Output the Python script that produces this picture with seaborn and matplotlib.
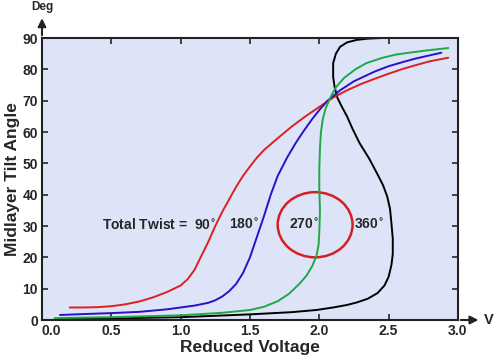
import numpy as np
import pandas as pd
import seaborn as sns
import matplotlib.pyplot as plt
from matplotlib.patches import Ellipse

# curve values (reduced voltage, midlayer tilt in deg)
red_x = [0.2, 0.3, 0.4, 0.5, 0.6, 0.7, 0.8, 0.9, 1.0, 1.05, 1.1, 1.15, 1.2, 1.25, 1.3, 1.35, 1.4, 1.45,
         1.5, 1.55, 1.6, 1.7, 1.8, 1.9, 2.0, 2.1, 2.2, 2.3, 2.4, 2.5, 2.6, 2.7, 2.8, 2.93]
red_y = [4.0, 4.0, 4.1, 4.4, 5.0, 5.9, 7.2, 8.9, 11.0, 13.0, 16.0, 20.5, 25.0, 30.0, 34.5, 38.5, 42.5, 46.0,
         49.0, 51.8, 54.2, 58.0, 61.7, 65.0, 68.0, 71.0, 73.3, 75.3, 77.0, 78.6, 80.1, 81.4, 82.6, 83.7]

blue_x = [0.13, 0.3, 0.5, 0.7, 0.9, 1.0, 1.1, 1.2, 1.25, 1.3, 1.35, 1.4, 1.45, 1.5, 1.55, 1.6, 1.65, 1.7,
          1.77, 1.83, 1.89, 1.95, 2.0, 2.06, 2.15, 2.25, 2.4, 2.5, 2.6, 2.7, 2.8, 2.88]
blue_y = [1.6, 1.9, 2.2, 2.6, 3.4, 4.0, 4.6, 5.5, 6.3, 7.5, 9.2, 11.5, 15.0, 20.0, 26.5, 33.0, 40.0, 46.0,
          52.0, 56.5, 60.5, 64.2, 67.0, 70.0, 73.3, 76.2, 79.3, 81.0, 82.3, 83.5, 84.5, 85.3]

green_x = [0.09, 0.5, 1.0, 1.3, 1.5, 1.6, 1.7, 1.78, 1.86, 1.91, 1.95, 1.98, 1.995, 2.0, 2.005, 2.0, 2.0,
           2.005, 2.012, 2.025, 2.045, 2.08, 2.12, 2.18, 2.26, 2.34, 2.45, 2.55, 2.63, 2.75, 2.93]
green_y = [0.6, 0.9, 1.5, 2.3, 3.2, 4.2, 6.0, 8.3, 11.7, 14.3, 17.3, 20.5, 24.0, 28.0, 35.0, 42.0, 48.0,
           55.0, 60.0, 64.0, 67.5, 71.0, 74.3, 77.3, 80.0, 82.0, 83.6, 84.7, 85.2, 85.9, 86.8]

black_x = [0.14, 0.5, 1.0, 1.5, 1.8, 1.98, 2.1, 2.2, 2.27, 2.35, 2.42, 2.47, 2.5, 2.52, 2.53, 2.53, 2.52,
           2.51, 2.49, 2.46, 2.42, 2.36, 2.29, 2.24, 2.2, 2.16, 2.13, 2.11, 2.1, 2.1, 2.12, 2.15, 2.2,
           2.27, 2.35, 2.45, 2.53]
black_y = [0.3, 0.5, 0.9, 1.8, 2.5, 3.2, 4.0, 4.8, 5.6, 6.8, 8.6, 11.0, 13.8, 17.5, 21.0, 26.0, 31.0,
           35.5, 39.4, 43.0, 46.5, 51.5, 56.5, 61.0, 65.0, 68.3, 71.0, 74.5, 77.6, 82.0, 85.0, 87.2, 88.6,
           89.4, 89.8, 90.0, 90.0]

twist_labels = ["Total Twist =  90$^{\\circ}$", "180$^{\\circ}$", "270$^{\\circ}$", "360$^{\\circ}$"]
label_x = [1.26, 1.46, 1.89, 2.36]

x_ticks = [0.0, 0.5, 1.0, 1.5, 2.0, 2.5, 3.0]
y_ticks = [0, 10, 20, 30, 40, 50, 60, 70, 80, 90]

sns.set_style("ticks")
plt.rcParams['font.family'] = ['Liberation Sans', 'DejaVu Sans']
plt.rcParams['font.weight'] = 'bold'

fig = plt.figure(figsize=(4.94, 3.62), dpi=100)
ax = fig.add_axes([0.085, 0.116, 0.842, 0.779])
ax.set_facecolor('#dde4f7')

curves = [(black_x, black_y, 'black'), (red_x, red_y, '#dd2020'),
          (blue_x, blue_y, '#2a10c8'), (green_x, green_y, '#1fa844')]
for xs, ys, col in curves:
    d = pd.DataFrame({'v': xs, 'deg': ys})
    sns.lineplot(data=d, x='v', y='deg', sort=False, estimator=None, color=col, lw=1.4, ax=ax)

# red circle around the 270 curve
ax.add_patch(Ellipse((1.97, 30.4), 0.54, 20.8, fill=False, ec='#d42020', lw=1.8))

for i, t in enumerate(twist_labels):
    ax.text(label_x[i], 30.5, t, ha='right' if i == 0 else 'center', va='center',
            fontsize=10, fontweight='bold')

ax.set_xlim(0, 3.0)
ax.set_ylim(0, 90)
ax.set_xticks(x_ticks)
ax.set_xticklabels([f"{v:.1f}" for v in x_ticks])
ax.set_yticks(y_ticks)
ax.tick_params(direction='in', length=4, width=1.2, labelsize=10, top=True, right=True,
               labeltop=False, labelright=False, pad=3)
for lab in ax.get_xticklabels() + ax.get_yticklabels():
    lab.set_fontweight('bold')
ax.get_xticklabels()[0].set_horizontalalignment('left')
for s in ax.spines.values():
    s.set_linewidth(1.5)
    s.set_color('#222222')

ax.set_xlabel('Reduced Voltage', fontsize=12.5, fontweight='bold', labelpad=1)
ax.set_ylabel('Midlayer Tilt Angle', fontsize=12.5, fontweight='bold', labelpad=2)

# axis arrows
ax.annotate('', xy=(0, 1.08), xytext=(0, 1.0), xycoords='axes fraction',
            arrowprops=dict(arrowstyle='-|>', color='#222222', lw=1.5, mutation_scale=12))
ax.annotate('', xy=(1.056, 0), xytext=(1.0, 0), xycoords='axes fraction',
            arrowprops=dict(arrowstyle='-|>', color='#222222', lw=1.5, mutation_scale=12))
ax.text(0.0, 1.088, 'Deg', transform=ax.transAxes, ha='center', va='bottom', fontsize=8.5, fontweight='bold')
ax.text(1.073, 0.0, 'V', transform=ax.transAxes, ha='center', va='center', fontsize=10.5, fontweight='bold')

fig.savefig('out.png', dpi=100)
